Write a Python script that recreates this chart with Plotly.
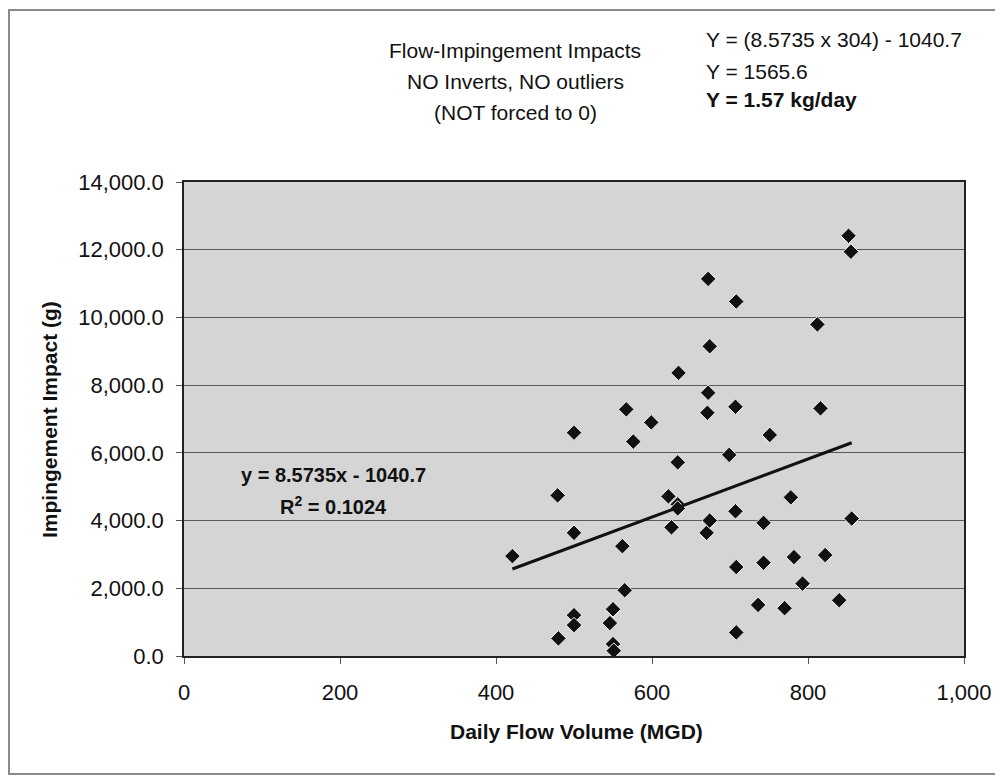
import plotly.graph_objects as go

# ---- data ----
flow_mgd = [421, 479, 480, 500, 500, 500, 500, 546, 550, 550, 551, 562, 565, 567, 576,
            599, 621, 625, 633, 633, 633, 634, 670, 672, 674, 672, 671, 674, 699, 707,
            708, 707, 708, 708, 736, 743, 743, 751, 770, 778, 782, 793, 812, 816, 822,
            840, 852, 855, 856]
impact_g = [2950, 4744, 520, 6597, 3638, 1206, 912, 971, 1382, 353, 156, 3244, 1941, 7285, 6332,
            6900, 4715, 3800, 5720, 4480, 4360, 8362, 3638, 11138, 9147, 7774, 7185, 4000, 5941, 7362,
            10471, 4274, 2627, 697, 1509, 3932, 2755, 6529, 1412, 4686, 2921, 2138, 9794, 7314, 2980,
            1647, 12412, 11941, 4059]

trend_slope = 8.5735
trend_intercept = -1040.7
trend_label = ["y = 8.5735x - 1040.7", "R<sup>2</sup> = 0.1024"]

title_lines = ["Flow-Impingement Impacts", "NO Inverts, NO outliers", "(NOT forced to 0)"]
calc_lines = ["Y = (8.5735 x 304) - 1040.7", "Y = 1565.6", "<b>Y = 1.57 kg/day</b>"]

x_title = "Daily Flow Volume (MGD)"
y_title = "Impingement Impact (g)"

# ---- geometry (page pixels; the page body adds an 8px offset) ----
OFF = 8
W, H = 1003 - OFF, 776 - OFF
L, R, T, B = 184, 964, 182, 656
pw, ph = R - L, B - T


def px(xp):
    return (xp - L) / pw


def py(yp):
    return (B - yp) / ph


FONT = "Liberation Sans, Arial, sans-serif"

trend_x = [min(flow_mgd), max(flow_mgd)]
trend_y = [trend_slope * v + trend_intercept for v in trend_x]

fig = go.Figure()
fig.add_trace(go.Scatter(
    x=flow_mgd, y=impact_g, mode="markers",
    marker=dict(symbol="diamond", size=12, color="#111111",
                line=dict(color="#f2f2f2", width=1)),
    cliponaxis=False, showlegend=False))
fig.add_trace(go.Scatter(
    x=trend_x, y=trend_y, mode="lines",
    line=dict(color="#111111", width=3), showlegend=False))

annotations = []
for i, t in enumerate(title_lines):
    annotations.append(dict(text=t, x=px(515), y=py([51, 82, 112][i]), xref="paper", yref="paper",
                            xanchor="center", yanchor="middle", showarrow=False,
                            font=dict(family=FONT, size=21, color="#111")))
for i, t in enumerate(calc_lines):
    annotations.append(dict(text=t, x=px(704), y=py([39, 71, 100][i]), xref="paper", yref="paper",
                            xanchor="left", yanchor="middle", showarrow=False,
                            font=dict(family=FONT, size=21, color="#111")))
for i, t in enumerate(trend_label):
    annotations.append(dict(text="<b>" + t + "</b>", x=px(333), y=py([475, 505][i]),
                            xref="paper", yref="paper", xanchor="center", yanchor="middle",
                            showarrow=False, font=dict(family=FONT, size=20, color="#111")))
annotations.append(dict(text="<b>" + x_title + "</b>", x=px(576), y=py(731), xref="paper",
                        yref="paper", xanchor="center", yanchor="middle", showarrow=False,
                        font=dict(family=FONT, size=21, color="#111")))
annotations.append(dict(text="<b>" + y_title + "</b>", x=px(49), y=py(420), xref="paper",
                        yref="paper", xanchor="center", yanchor="middle", showarrow=False,
                        textangle=-90, font=dict(family=FONT, size=21, color="#111")))

fig.update_layout(
    width=W, height=H,
    margin=dict(l=L - OFF, r=(W + OFF) - R, t=T - OFF, b=(H + OFF) - B, autoexpand=False),
    paper_bgcolor="white", plot_bgcolor="#d5d5d5",
    font=dict(family=FONT, size=22, color="#111"),
    annotations=annotations,
    shapes=[dict(type="rect", xref="paper", yref="paper",
                 x0=px(OFF + 1), x1=px(1010), y0=py(774), y1=py(10),
                 line=dict(color="#8a8a8a", width=2), layer="below")],
)
fig.update_xaxes(range=[0, 1000], dtick=200, tick0=0, tickformat=",d",
                 showgrid=False, zeroline=False,
                 showline=True, linecolor="#222", linewidth=1.5, mirror=True,
                 ticks="outside", ticklen=6, tickcolor="#555", tickwidth=1,
                 ticklabelstandoff=10, tickfont=dict(size=22))
fig.update_yaxes(range=[0, 14000], dtick=2000, tick0=0, tickformat=",.1f",
                 showgrid=True, gridcolor="#5a5a5a", gridwidth=1, zeroline=False,
                 showline=True, linecolor="#222", linewidth=1.5, mirror=True,
                 ticks="outside", ticklen=6, tickcolor="#555", tickwidth=1,
                 ticklabelstandoff=8, tickfont=dict(size=22))

fig.write_html("out.html")
